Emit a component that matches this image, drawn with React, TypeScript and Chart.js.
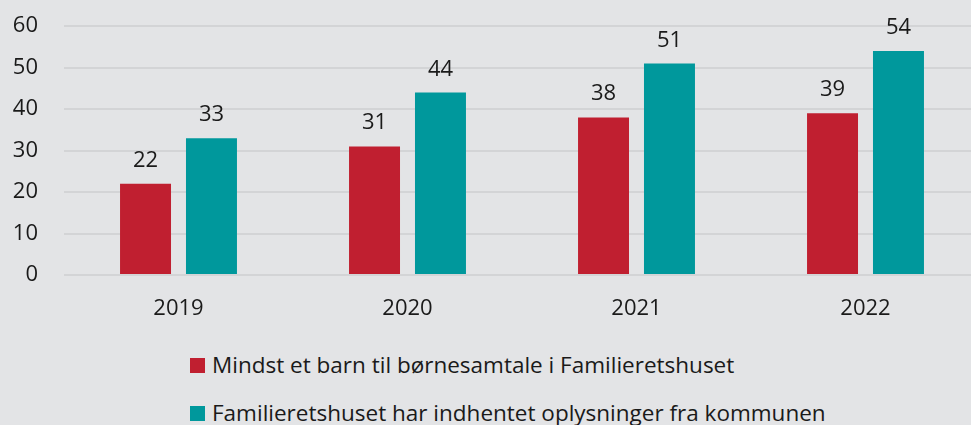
import React, { useEffect, useRef } from "react";
import { Chart, registerables } from "chart.js";

Chart.register(...registerables);

const categories = ["2019", "2020", "2021", "2022"];
const seriesNames = [
  "Mindst et barn til børnesamtale i Familieretshuset",
  "Familieretshuset har indhentet oplysninger fra kommunen",
];
const seriesA = [22, 31, 38, 39];
const seriesB = [33, 44, 51, 54];
const colors = ["#c01f30", "#00989c"];
const yMax = 60;
const yStep = 10;

const FONT = "'Open Sans', 'Noto Sans', sans-serif";
const BG = "#e3e4e6";
const TEXT = "#1a1a1a";
const FS = 22;

const valueLabels = {
  id: "valueLabels",
  afterDatasetsDraw(chart: any) {
    const ctx = chart.ctx;
    ctx.save();
    ctx.font = `${FS}px ${FONT}`;
    ctx.fillStyle = TEXT;
    ctx.textAlign = "center";
    ctx.textBaseline = "alphabetic";
    chart.data.datasets.forEach((ds: any, i: number) => {
      const meta = chart.getDatasetMeta(i);
      meta.data.forEach((bar: any, j: number) => {
        ctx.fillText(String(ds.data[j]), bar.x, bar.y - 17);
      });
    });
    ctx.restore();
  },
};

export default function App() {
  const ref = useRef<HTMLCanvasElement>(null);
  useEffect(() => {
    const chart = new Chart(ref.current!, {
      type: "bar",
      data: {
        labels: categories,
        datasets: [
          { label: seriesNames[0], data: seriesA, backgroundColor: colors[0] },
          { label: seriesNames[1], data: seriesB, backgroundColor: colors[1] },
        ],
      },
      options: {
        responsive: false,
        animation: false,
        layout: { padding: { top: 12, right: 10, left: 0, bottom: 0 } },
        datasets: {
          bar: { categoryPercentage: 0.576, barPercentage: 0.773 },
        } as any,
        plugins: {
          legend: { display: false },
          tooltip: { enabled: false },
        },
        scales: {
          x: {
            grid: { display: false, drawTicks: false },
            border: { display: false },
            ticks: { color: TEXT, font: { family: FONT, size: FS }, padding: 21 },
            afterFit: (s: any) => {
              s.height = 55;
            },
          },
          y: {
            min: 0,
            max: yMax,
            grid: { color: "#d3d4d6", lineWidth: 2, drawTicks: false },
            border: { display: false },
            ticks: {
              stepSize: yStep,
              color: TEXT,
              font: { family: FONT, size: FS },
              padding: 26,
            },
            afterFit: (s: any) => {
              s.width = 64;
            },
          },
        },
      },
      plugins: [valueLabels],
    });
    return () => chart.destroy();
  }, []);

  const legendItem = (i: number, top: number) => (
    <div
      style={{
        position: "absolute",
        left: 190,
        top,
        display: "flex",
        alignItems: "center",
        fontFamily: FONT,
        fontSize: 22.5,
        color: TEXT,
        whiteSpace: "nowrap",
        lineHeight: "26px",
      }}
    >
      <span
        style={{
          display: "inline-block",
          width: 15,
          height: 15,
          background: colors[i],
          marginRight: 7,
        }}
      />
      <span>{seriesNames[i]}</span>
    </div>
  );

  return (
    <div
      style={{
        position: "fixed",
        left: 0,
        top: 0,
        width: 971,
        height: 425,
        background: BG,
        overflow: "hidden",
      }}
    >
      <canvas
        ref={ref}
        width={990}
        height={343}
        style={{ position: "absolute", left: 0, top: -13 }}
      />
      {legendItem(0, 352)}
      {legendItem(1, 400)}
    </div>
  );
}
